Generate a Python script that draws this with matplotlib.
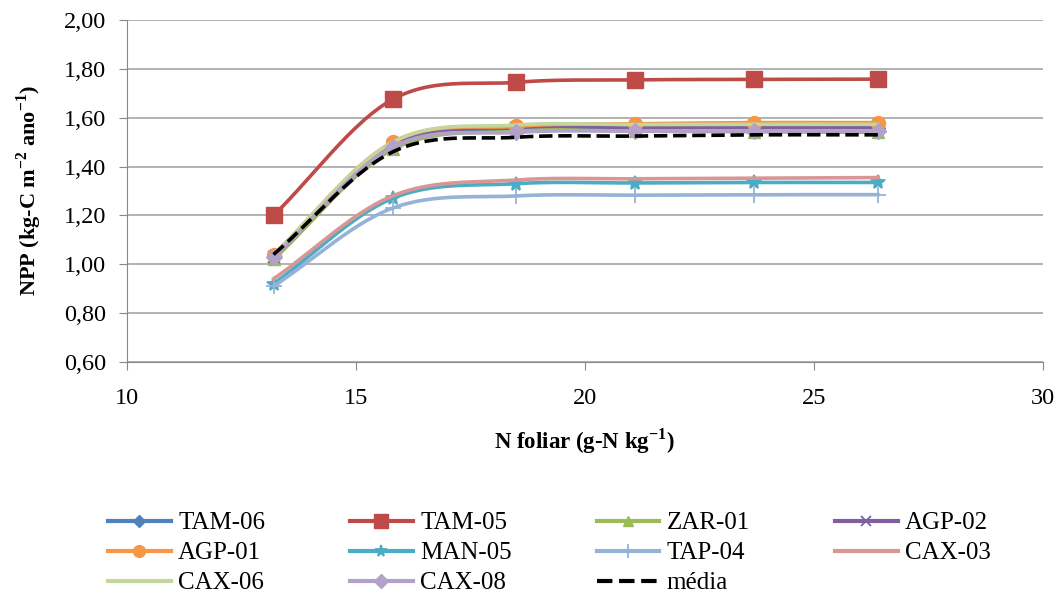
import matplotlib
matplotlib.use("Agg")
import matplotlib.pyplot as plt
import numpy as np

plt.rcParams['font.family'] = ['Liberation Serif', 'DejaVu Serif']
plt.rcParams['mathtext.fontset'] = 'custom'
plt.rcParams['mathtext.rm'] = 'Liberation Serif'
plt.rcParams['mathtext.bf'] = 'Liberation Serif:bold'

# N foliar (g-N kg-1)
n_foliar = [13.2, 15.8, 18.5, 21.1, 23.7, 26.4]

# NPP per site (kg-C m-2 ano-1)
tam06 = [1.03, 1.49, 1.555, 1.56, 1.56, 1.56]
tam05 = [1.20, 1.675, 1.745, 1.755, 1.757, 1.758]
zar01 = [1.02, 1.47, 1.545, 1.545, 1.542, 1.54]
agp02 = [1.03, 1.49, 1.56, 1.56, 1.56, 1.56]
agp01 = [1.04, 1.50, 1.565, 1.575, 1.58, 1.58]
man05 = [0.92, 1.27, 1.33, 1.333, 1.335, 1.335]
tap04 = [0.91, 1.23, 1.28, 1.283, 1.285, 1.285]
cax03 = [0.94, 1.28, 1.345, 1.35, 1.352, 1.355]
cax06 = [1.04, 1.50, 1.57, 1.572, 1.573, 1.573]
cax08 = [1.03, 1.48, 1.54, 1.545, 1.545, 1.545]
media = [1.04, 1.46, 1.52, 1.525, 1.53, 1.53]

labels = ['TAM-06', 'TAM-05', 'ZAR-01', 'AGP-02', 'AGP-01', 'MAN-05',
          'TAP-04', 'CAX-03', 'CAX-06', 'CAX-08', 'média']
series = [tam06, tam05, zar01, agp02, agp01, man05, tap04, cax03, cax06, cax08, media]
colors = ['#4F81BD', '#BE4B48', '#9BBB59', '#7F5FA0', '#F79646', '#4BACC6',
          '#95B3D7', '#D99694', '#C3D69B', '#B3A2C7', 'black']
markers = ['D', 's', '^', 'x', 'o', '*', '+', None, None, 'D', None]
msizes = [7, 12, 9, 9, 10, 10, 12, 0, 0, 8, 0]


def smooth(x, y, n=30):
    # catmull-rom curve through the points, like Excel "smoothed line"
    x = np.asarray(x, float); y = np.asarray(y, float)
    px = np.concatenate([[2*x[0]-x[1]], x, [2*x[-1]-x[-2]]])
    py = np.concatenate([[2*y[0]-y[1]], y, [2*y[-1]-y[-2]]])
    xs, ys = [], []
    t = np.linspace(0, 1, n)
    for i in range(1, len(px)-2):
        for p, out in ((px, xs), (py, ys)):
            p0, p1, p2, p3 = p[i-1], p[i], p[i+1], p[i+2]
            out.extend(0.5*((2*p1) + (-p0+p2)*t + (2*p0-5*p1+4*p2-p3)*t**2 + (-p0+3*p1-3*p2+p3)*t**3))
    return xs, ys


fig = plt.figure(figsize=(10.63, 5.96), dpi=100)
ax = fig.add_axes([0.1195, 0.3926, 0.8615, 0.5738])

handles = []
for i, (lab, vals) in enumerate(zip(labels, series)):
    sx, sy = smooth(n_foliar, vals)
    ls = '--' if lab == 'média' else '-'
    ax.plot(sx, sy, color=colors[i], lw=2.6, ls=ls, zorder=3+i)
    if markers[i]:
        mew = 1.3 if markers[i] in ('x', '+', '*') else 1
        ax.plot(n_foliar, vals, ls='none', marker=markers[i], ms=msizes[i],
                color=colors[i], mec=colors[i], mew=mew, zorder=3+i)
    h, = ax.plot([], [], color=colors[i], lw=3, ls=ls,
                 marker=markers[i] if markers[i] else None, ms=msizes[i]*0.85,
                 mew=1.3 if markers[i] in ('x', '+', '*') else 1)
    handles.append(h)

ax.set_xlim(10, 30)
ax.set_ylim(0.6, 2.0)
ax.set_xticks([10, 15, 20, 25, 30])
yt = np.arange(0.6, 2.01, 0.2)
ax.set_yticks(yt)
ax.set_yticklabels([('%.2f' % v).replace('.', ',') for v in yt])
ax.grid(axis='y', color='#a6a6a6', lw=1.2)
ax.set_axisbelow(True)
for s in ['top', 'right']:
    ax.spines[s].set_visible(False)
ax.spines['left'].set_color('#888888')
ax.spines['bottom'].set_color('#888888')
ax.tick_params(labelsize=17.5, length=6, color='#888888', pad=9)
ax.tick_params(axis='x', pad=13)

ax.set_xlabel(r'N foliar (g-N kg$^{\mathbf{-1}}$)', fontsize=16.5, fontweight='bold', labelpad=12)
ax.set_ylabel(r'NPP (kg-C m$^{\mathbf{-2}}$ ano$^{\mathbf{-1}}$)', fontsize=16, fontweight='bold', labelpad=14)

# row-wise legend order like the original (matplotlib fills by column)
order = [0, 4, 8, 1, 5, 9, 2, 6, 10, 3, 7]
fig.legend([handles[k] for k in order], [labels[k] for k in order],
           loc='lower center', bbox_to_anchor=(0.517, -0.035), ncol=4,
           frameon=False, fontsize=18, handlelength=2.5, columnspacing=3.4,
           labelspacing=0.3, handletextpad=0.3)

fig.savefig('out.png', dpi=100)
